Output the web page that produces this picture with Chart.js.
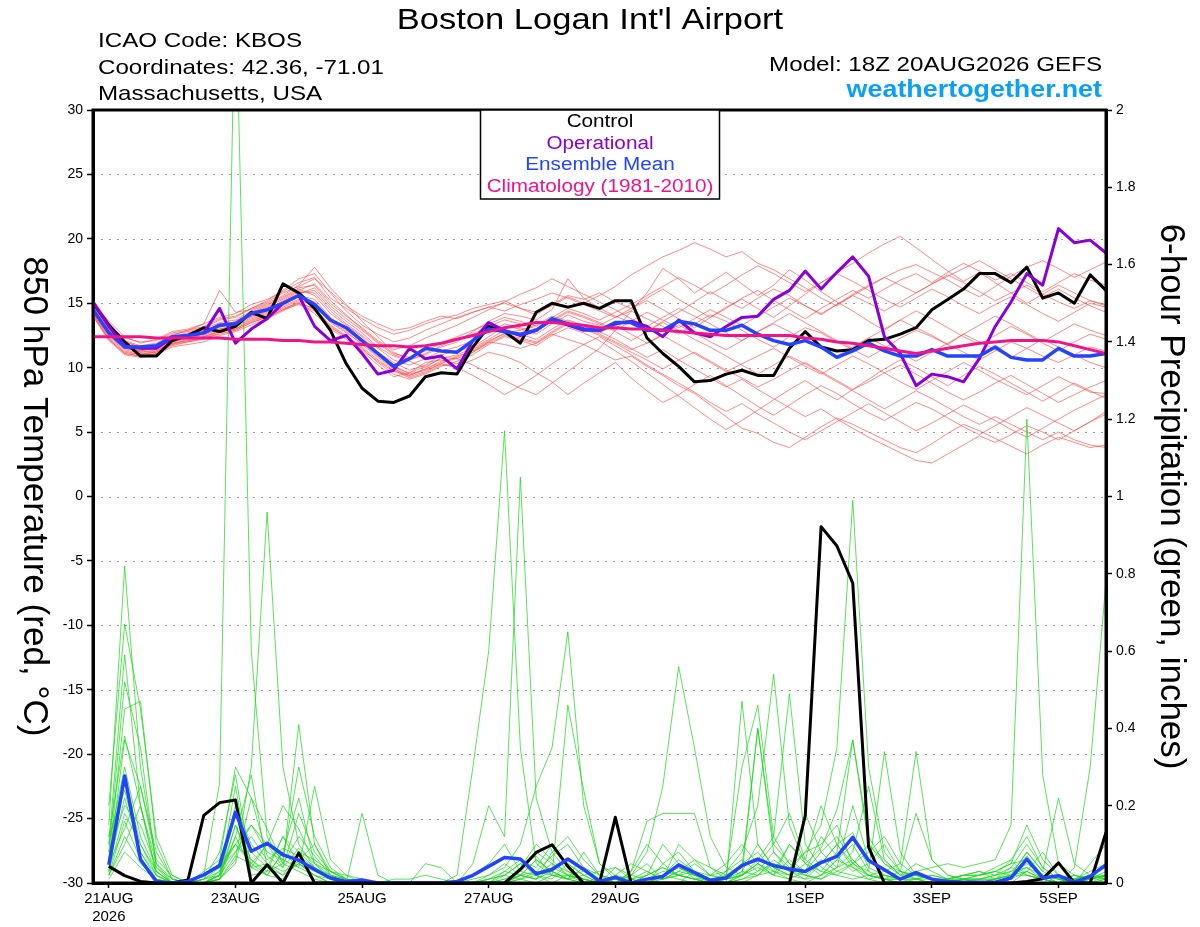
<!DOCTYPE html>
<html><head><meta charset="utf-8">
<script src="https://cdn.jsdelivr.net/npm/chart.js@4.4.1/dist/chart.umd.min.js"></script>
<style>html,body{margin:0;padding:0;background:#fff;}canvas{display:block;}</style>
</head><body>
<canvas id="c" width="1200" height="927"></canvas>
<script>
// ---------- DATA ----------
const stepHours = 6; // index 0 = 18Z 20AUG2026
const xTickHours = [6, 54, 102, 150, 198, 270, 318, 366];
const xTickLabels = [["21AUG", "2026"], "23AUG", "25AUG", "27AUG", "29AUG", "1SEP", "3SEP", "5SEP"];

const controlTemp = [15.0,13.3,12.0,10.9,10.9,12.1,12.5,13.1,12.8,13.2, 14.3,13.8,16.5,15.8,14.6,12.9,10.3,8.4,7.4,7.3, 7.8,9.3,9.6,9.5,11.6,13.2,12.8,11.9,14.3,15.0, 14.7,15.0,14.6,15.2,15.2,12.3,11.1,10.1,8.9,9.0, 9.5,9.8,9.4,9.4,11.5,12.8,11.6,11.3,11.4,12.1, 12.2,12.6,13.1,14.5,15.3,16.1,17.3,17.3,16.6,17.8, 15.4,15.8,15.0,17.2,16.0];
const operationalTemp = [15.1,13.2,11.7,11.5,11.5,12.3,12.5,12.7,14.6,11.9, 13.0,13.8,15.0,15.6,13.2,12.1,12.5,11.1,9.5,9.8, 11.5,10.7,10.9,9.9,12.1,13.5,12.9,12.5,12.9,13.7, 13.3,12.9,12.9,13.4,13.6,13.2,12.4,13.7,12.7,12.4, 13.2,13.9,14.0,15.3,16.0,17.5,16.1,17.4,18.6,17.1, 12.4,11.1,8.6,9.5,9.3,8.9,10.7,13.2,15.1,17.3, 16.4,20.8,19.7,19.9,18.9];
const meanTemp = [14.5,12.7,11.6,11.6,11.7,12.4,12.5,12.7,13.3,13.4, 14.2,14.5,15.0,15.6,14.9,13.7,13.1,12.1,11.1,10.1, 10.7,11.5,11.3,11.2,12.1,13.0,12.8,12.6,12.9,13.8, 13.4,13.0,12.9,13.5,13.5,12.9,12.9,13.6,13.4,12.9, 12.9,13.3,12.6,12.1,11.8,12.1,11.6,10.8,11.3,11.9, 11.3,10.9,10.9,11.4,10.9,10.9,10.9,11.6,10.8,10.6, 10.6,11.5,10.9,10.9,11.1];
const climTemp = [12.4,12.4,12.4,12.4,12.3,12.3,12.3,12.3,12.3,12.2, 12.2,12.2,12.1,12.1,12.0,12.0,11.9,11.8,11.7,11.7, 11.6,11.7,11.9,12.2,12.5,12.8,13.1,13.3,13.5,13.5, 13.4,13.3,13.1,13.1,13.0,13.0,12.9,12.8,12.7,12.6, 12.5,12.5,12.5,12.5,12.5,12.3,12.2,12.0,11.9,11.7, 11.5,11.3,11.1,11.3,11.5,11.7,11.9,12.0,12.1,12.1, 12.1,12.0,11.7,11.4,11.1];

const tempMember01 = [15.0,13.6,12.4,11.9,12.2,12.8,13.0,13.4,13.9,14.2,14.9,15.3, 15.9,16.6,17.0,15.4,14.6, 13.8,13.1,12.6,12.9,13.4,13.8,14.1,14.6,14.9,15.2,14.6,14.3,14.8,15.5,15.0, 15.6,16.3,17.2,17.9,18.6,19.1,19.7,19.2,18.6,19.0,18.1,17.6,16.9,16.2,15.4,14.8,15.6,16.3,17.0,16.4,15.8,16.5,17.2,16.6,15.9,15.2,15.8,16.4,15.7,15.1,14.6,15.2,14.8];
const tempMember02 = [14.2,12.3,11.2,11.0,11.3,11.9,12.1,12.3,12.8,13.0,13.6,14.0, 14.6,15.0,14.2,13.0,12.2, 11.3,10.2,9.3,9.6,10.4,10.6,10.3,11.2,12.0,11.8,11.5,11.9,12.6,12.2,11.8, 11.2,10.6,10.9,10.1,9.4,8.6,8.0,7.1,6.2,5.3,4.9,4.2,3.8,4.6,5.4,6.1,5.6,5.0,4.4,3.8,3.4,4.1,4.9,5.6,5.1,4.5,3.9,3.3,4.0,4.6,4.2,3.8,4.0];
const tempMember03 = [14.7,13.0,11.8,11.4,11.5,12.2,12.6,12.9,13.1,13.6,14.3,14.8, 15.4,16.1,15.6,14.2,13.3, 12.4,11.2,10.4,9.8,10.2,11.0,11.3,11.6,12.4,13.2,13.0,12.6,13.4,14.1,13.6, 13.3,13.9,14.4,13.8,13.2,12.6,13.4,14.1,13.6,12.9,12.2,11.6,12.4,13.1,12.7,12.0,11.4,10.8,11.5,12.3,12.9,12.4,11.8,11.2,10.6,11.3,12.0,11.5,10.9,10.4,11.0,11.6,11.3];
const tempMember04 = [15.3,13.5,12.0,11.6,11.8,12.5,12.9,13.4,16.0,14.3,14.5,15.0, 15.6,16.4,17.8,16.2,14.9, 13.6,12.4,11.2,10.6,11.0,11.6,12.0,12.8,13.6,14.2,14.0,13.7,14.5,16.9,15.4, 14.6,14.0,13.5,12.8,13.6,14.3,15.1,15.9,15.2,14.6,15.4,16.1,15.6,14.8,14.1,14.9,15.7,16.4,17.0,17.6,18.0,17.4,16.8,16.1,15.5,16.3,17.1,17.8,18.3,17.7,17.0,17.6,18.2];
const tempMember05 = [14.0,12.1,11.0,10.8,11.0,11.6,11.8,12.0,12.5,12.8,13.3,13.8, 14.4,15.0,14.6,13.3,12.5, 11.6,10.6,9.8,9.2,9.6,10.2,10.1,10.6,11.2,10.9,10.4,9.6,8.9,7.9,8.8, 9.6,10.4,9.2,8.2,7.3,7.9,8.7,9.4,8.6,7.8,7.0,6.3,7.1,7.9,8.6,8.0,7.2,6.5,5.9,6.6,7.3,6.8,6.1,5.4,4.8,5.5,6.2,6.9,6.3,5.7,5.1,5.8,6.4];
const tempMember06 = [14.9,13.2,12.3,12.0,12.1,12.7,12.9,13.2,13.8,14.0,14.6,15.1, 15.8,16.3,16.9,15.9,14.8, 14.0,13.4,12.9,13.1,13.6,14.0,13.8,14.3,14.7,14.4,14.9,15.3,15.8,15.4,14.9, 14.4,13.9,14.6,15.2,14.5,13.8,13.1,13.9,14.7,15.3,14.6,13.9,14.8,15.7,16.6,17.4,18.1,18.9,19.6,20.2,19.3,18.4,17.5,16.7,17.4,16.6,15.8,15.0,15.7,16.4,15.8,15.2,14.9];
const tempMember07 = [14.4,12.6,11.5,11.2,11.4,12.0,12.3,12.6,13.0,13.2,13.9,14.2, 14.9,15.5,15.1,13.8,12.9, 12.0,11.0,9.9,9.4,9.9,10.5,10.8,11.4,12.1,12.6,12.3,12.0,12.8,13.5,13.1, 12.6,12.0,11.4,11.9,12.5,11.8,11.1,10.4,9.7,10.3,10.9,11.5,10.8,10.1,9.5,10.2,10.9,10.3,9.6,8.9,8.3,9.0,9.7,10.4,9.8,9.1,8.5,7.9,8.6,9.3,8.7,8.1,8.0];
const tempMember08 = [14.6,12.9,11.7,11.3,11.6,12.3,12.4,12.8,13.4,13.5,14.1,14.6, 15.1,15.8,16.0,14.6,13.6, 12.7,11.6,10.9,10.5,10.0,10.8,10.7,10.2,9.6,9.0,8.4,7.9,8.8,9.7,10.6, 11.5,12.9,14.4,15.8,17.7,16.9,15.8,16.6,17.4,16.5,15.6,16.4,17.6,16.8,15.9,15.1,14.4,13.6,12.9,13.7,14.4,13.8,13.1,12.4,11.8,12.5,13.2,12.6,11.9,11.3,12.0,12.6,12.2];
const tempMember09 = [14.3,12.5,11.4,11.1,11.2,11.8,12.2,12.4,12.9,13.1,13.8,14.1, 14.8,15.3,14.8,13.5,12.7, 11.9,10.9,10.0,9.6,10.1,10.7,11.0,11.5,12.2,12.9,12.6,12.2,13.0,13.7,13.3, 12.8,12.2,11.5,10.8,11.4,10.6,9.9,9.2,8.5,9.1,8.3,7.6,6.9,6.2,6.8,6.0,5.3,4.6,4.0,3.4,2.8,2.6,3.3,4.0,4.7,4.2,4.8,5.5,5.0,4.4,5.1,5.8,6.6];
const tempMember10 = [15.1,13.3,12.1,11.7,11.9,12.6,12.8,13.1,13.7,13.9,14.6,15.2, 16.0,16.9,17.3,15.8,14.4, 13.3,12.6,12.0,12.3,12.9,13.4,13.9,14.3,14.7,15.0,14.6,14.1,14.9,15.6,15.3, 15.8,15.1,14.6,15.4,16.1,15.3,14.6,13.9,14.6,15.4,16.0,15.2,14.5,13.8,14.6,15.3,16.0,15.4,16.1,16.8,17.3,16.6,17.4,18.1,17.5,16.8,17.3,16.6,15.9,16.6,17.3,16.8,16.4];
const tempMember11 = [14.1,12.2,11.1,10.9,11.1,11.7,12.0,12.2,12.7,12.9,13.5,13.9, 14.5,14.9,14.4,13.1,12.4, 11.5,10.4,9.5,9.1,9.5,10.1,10.5,11.0,11.8,12.4,12.1,11.7,12.5,13.1,12.7, 12.1,11.3,10.5,9.6,8.7,7.8,6.9,6.0,5.2,5.9,6.7,7.5,8.3,9.0,8.2,7.5,8.3,9.1,9.9,10.6,10.0,9.3,8.6,9.4,10.1,9.5,8.8,8.1,7.4,8.1,8.8,8.2,7.6];
const tempMember12 = [14.8,13.1,12.0,11.6,11.7,12.4,12.7,13.0,13.5,13.7,14.4,14.9, 15.5,16.2,16.4,15.0,14.0, 13.1,12.1,11.4,11.7,12.3,12.8,13.3,13.9,14.5,15.1,15.7,16.2,16.9,16.3,15.7, 15.1,14.5,13.8,13.2,13.9,14.6,14.0,13.4,12.7,12.1,12.8,13.5,14.2,13.5,12.8,12.1,11.5,12.3,13.0,13.7,13.1,12.5,11.8,12.6,13.3,14.0,13.4,12.7,12.0,12.7,13.4,12.9,12.5];
const tempMember13 = [14.5,12.8,11.6,11.2,11.3,12.0,12.3,12.5,13.0,13.3,14.0,14.3, 14.9,15.6,15.3,13.9,13.0, 12.1,11.1,10.2,9.5,9.8,10.3,10.0,9.4,8.7,7.9,8.6,9.4,10.3,11.1,11.8, 12.4,11.7,11.0,10.2,9.5,8.8,8.1,7.3,6.6,7.2,6.4,5.7,5.0,4.4,5.1,5.8,6.5,7.2,6.5,5.8,5.1,5.7,6.4,7.1,6.5,5.9,5.2,4.6,5.3,6.0,6.7,7.3,7.9];
const tempMember14 = [14.6,12.9,11.8,11.5,11.7,12.3,12.5,12.9,13.2,13.6,14.2,14.7, 15.3,16.0,16.5,15.2,14.1, 13.0,12.0,11.1,10.8,11.3,11.9,12.4,12.9,13.4,13.9,13.6,13.2,13.9,14.6,14.2, 13.7,14.3,14.9,15.6,16.3,17.0,16.4,15.7,16.4,17.2,17.9,17.3,16.6,15.9,16.6,17.3,16.7,16.0,15.3,14.7,15.4,16.1,15.5,14.8,14.2,14.9,15.5,14.9,14.2,13.6,14.3,15.0,14.7];
const tempMember15 = [14.2,12.4,11.3,11.0,11.2,11.9,12.1,12.4,12.8,13.0,13.7,14.0, 14.7,15.2,14.9,13.6,12.8, 11.8,10.8,9.9,9.3,9.7,10.3,10.9,11.3,12.0,12.7,12.9,13.3,14.0,13.6,13.2, 12.7,13.3,12.6,11.9,12.6,13.3,12.7,12.0,11.4,12.1,12.8,13.4,12.8,12.1,11.5,10.9,11.6,12.3,11.7,11.1,10.5,11.2,11.9,12.6,12.0,11.4,10.8,11.5,12.2,11.6,11.0,10.4,10.0];
const tempMember16 = [14.9,13.1,11.9,11.4,11.6,12.2,12.5,12.8,13.3,13.5,14.2,14.5, 15.2,15.9,15.8,14.4,13.4, 12.5,11.5,10.6,10.2,10.7,11.3,11.6,12.1,12.8,13.4,13.1,12.8,13.6,14.3,13.9, 13.4,12.8,12.1,12.8,13.5,12.9,12.2,11.6,10.9,10.2,9.5,10.2,10.9,10.3,9.6,8.9,8.2,7.5,6.8,7.5,8.2,7.6,6.9,6.2,5.6,6.2,5.6,5.0,4.4,5.0,4.4,4.0,3.8];
const tempMember17 = [14.7,12.7,11.5,11.3,11.5,12.1,12.4,12.7,13.2,13.4,14.0,14.4, 15.0,15.7,16.2,14.8,13.8, 12.9,11.9,11.0,10.6,11.1,11.7,12.2,12.6,13.2,13.7,13.4,13.0,13.7,14.4,14.0, 13.5,12.9,13.6,14.3,13.7,13.1,13.8,14.5,13.9,13.3,14.0,14.7,15.4,14.8,14.2,14.9,15.6,15.0,14.4,15.1,15.8,16.5,17.1,17.7,18.3,17.6,16.9,16.2,15.5,16.1,15.4,14.8,14.3];
const tempMember18 = [14.0,12.2,11.1,10.9,11.1,11.8,12.0,12.3,12.6,12.9,13.5,13.9, 14.5,15.1,14.5,13.2,12.4, 11.4,10.5,9.7,9.4,9.9,10.4,10.7,11.2,11.9,12.5,12.2,11.9,12.7,13.4,13.0, 12.5,11.9,11.2,10.6,9.9,10.6,11.2,10.5,9.8,9.2,8.5,9.1,9.8,10.4,9.7,9.0,8.3,8.9,9.6,10.2,9.5,8.8,8.1,7.5,8.1,8.8,9.4,8.7,8.0,7.3,7.9,8.5,9.0];

// 6-hour precipitation, first value = 00Z 21AUG (index 1)
const controlPrecip = [0.043,0.019,0.004,0,0,0.008,0.175,0.208, 0.215,0,0.047,0,0.078,0,0,0, 0,0,0,0,0,0,0,0, 0,0,0.035,0.079,0.099,0.043,0,0, 0.17,0,0,0,0,0,0,0, 0,0,0,0,0.175,0.922,0.872,0.776, 0.093,0,0,0,0,0,0,0, 0,0,0.004,0.011,0.052,0,0,0.131];
const meanPrecip = [0.047,0.277,0.061,0.004,0,0.004,0.021,0.045, 0.183,0.082,0.103,0.073,0.059,0.035,0.013,0.004, 0.008,0,0,0,0,0,0.004,0.02, 0.043,0.066,0.062,0.024,0.035,0.062,0.035,0.004, 0.015,0,0.01,0.017,0.047,0.027,0.007,0.013, 0.045,0.062,0.045,0.036,0.030,0.053,0.069,0.118, 0.058,0.034,0.01,0.027,0.01,0.004,0.002,0.002, 0.002,0.013,0.062,0.013,0.019,0.002,0.017,0.047];

const precipMember01 = [0.02,0.12,0.05,0.01,0,0,0.02,0.26, 2.35,0.6,0.12,0.05,0.03,0.01,0,0, 0,0,0,0,0,0,0,0.02, 0.05,0.1,0.03,0.02,0.01,0.05,0.02,0, 0,0,0.02,0.1,0.05,0.01,0,0.02, 0.05,0.08,0.03,0.01,0,0.02,0.04,0.06, 0.02,0.01,0,0,0,0.01,0.02,0.03, 0.01,0.02,0.08,0.03,0.01,0,0,0.02];
const precipMember02 = [0.15,0.82,0.3,0.05,0,0,0,0.02, 0.08,0.15,0.1,0.06,0.04,0.02,0,0, 0,0,0,0,0,0,0,0, 0,0,0.02,0.06,0.03,0.01,0.08,0.02, 0.01,0,0,0.02,0.06,0.03,0,0, 0.47,0.1,0.04,0.02,0.05,0.09,0.19,0.37, 0.12,0.05,0.02,0.03,0.01,0,0,0, 0,0,0.03,0.01,0,0,0.02,0.05];
const precipMember03 = [0.2,0.67,0.45,0.12,0.02,0,0,0.01, 0.06,0.3,0.96,0.3,0.1,0.04,0.01,0, 0,0,0,0,0,0,0,0, 0,0.02,0.05,0.02,0,0.02,0.01,0, 0,0.03,0.16,0.18,0.18,0.18,0.04,0.01, 0.02,0.4,0.1,0.05,0.02,0.01,0.04,0.08, 0.25,0.06,0.02,0.01,0,0,0.01,0.02, 0.04,0.06,0.02,0.01,0,0.01,0.02,0.04];
const precipMember04 = [0.1,0.59,0.2,0.03,0,0,0.01,0.03, 0.1,0.05,0.02,0.01,0.06,0.1,0.03,0.01, 0,0,0,0,0,0,0.02,0.3, 0.6,1.17,0.35,0.05,0.02,0.01,0,0, 0,0,0.02,0.04,0.02,0.01,0,0, 0.01,0.03,0.08,0.04,0.02,0.01,0.03,0.05, 0.02,0.01,0.01,0,0,0,0.01,0.01, 0.02,0.06,0.12,0.04,0.01,0,0.05,0.1];
const precipMember05 = [0.08,0.52,0.35,0.04,0,0,0,0.02, 0.12,0.04,0.05,0.02,0.08,0.04,0.01,0, 0,0,0,0,0,0,0,0.05, 0.2,0.12,1.05,0.22,0.08,0.03,0.01,0, 0,0.02,0.01,0,0,0.03,0.01,0, 0,0.02,0.05,0.03,0.01,0.02,0.06,0.04, 0.01,0,0,0,0,0.01,0.02,0.02, 0.03,0.02,0.05,0.02,0,0.04,0.3,0.78];
const precipMember06 = [0.12,0.38,0.2,0.02,0,0,0.02,0.05, 0.1,0.06,0.03,0.05,0.12,0.07,0.02,0, 0,0,0,0,0,0,0,0, 0.02,0.04,0.1,0.25,0.35,0.65,0.2,0.05, 0.02,0.01,0,0.05,0.08,0.03,0.01,0, 0.02,0.05,0.03,0.1,0.06,0.2,0.1,0.05, 0.03,0.34,0.08,0.02,0.01,0,0,0, 0.01,0.02,0.02,0.01,0,0,0.01,0.02];
const precipMember07 = [0.05,0.37,0.25,0.08,0.01,0,0,0.02, 0.18,0.08,0.04,0.02,0.05,0.03,0.01,0, 0,0,0,0,0,0,0,0, 0,0.01,0.03,0.08,0.05,0.02,0,0, 0.04,0.02,0.08,0.25,0.56,0.35,0.12,0.04, 0.02,0.06,0.12,0.05,0.03,0.08,0.12,0.06, 0.02,0.01,0.03,0.18,0.06,0.02,0.01,0, 0,0.01,0.06,0.02,0.01,0.01,0,0.01];
const precipMember08 = [0.03,0.27,0.1,0.02,0,0,0.01,0.04, 0.1,0.15,0.08,0.06,0.3,0.12,0.04,0.01, 0,0,0,0,0,0,0,0, 0.01,0.03,0.02,0.01,0.04,0.02,0.01,0, 0,0.01,0.03,0.01,0.02,0.05,0.02,0.01, 0.03,0.02,0.06,0.03,0.08,0.15,0.35,0.99, 0.3,0.08,0.03,0.01,0,0,0,0, 0.01,0.03,0.07,0.02,0,0,0.01,0.02];
const precipMember09 = [0.04,0.22,0.08,0.01,0,0,0,0.01, 0.07,0.05,0.1,0.04,0.09,0.05,0.03,0.01, 0,0,0,0,0,0,0,0, 0,0,0.02,0.01,0.03,0.01,0,0, 0.01,0,0.01,0.02,0.01,0,0,0.01, 0.02,0.04,0.02,0.01,0.03,0.06,0.03,0.02, 0.01,0.02,0.01,0.03,0.04,0.05,0.04,0.05, 0.06,0.15,1.2,0.28,0.05,0.02,0.01,0.03];
const precipMember10 = [0.02,0.16,0.06,0.01,0,0,0,0.01, 0.05,0.22,0.14,0.05,0.41,0.1,0.02,0, 0.18,0.02,0,0,0,0,0,0, 0.01,0.02,0.01,0,0.02,0.46,0.24,0.05, 0.01,0,0.01,0.03,0.02,0.01,0,0.03, 0.08,0.2,0.54,0.15,0.05,0.03,0.08,0.37, 0.1,0.05,0.03,0.02,0.01,0,0,0, 0.01,0.02,0.03,0.01,0,0.01,0.02,0.01];
const precipMember11 = [0.01,0.08,0.04,0.01,0,0,0.01,0.02, 0.15,0.04,0.02,0.08,0.04,0.25,0.06,0.02, 0,0,0,0,0,0,0,0, 0,0,0.01,0.02,0.05,0.03,0.01,0, 0.02,0.05,0.03,0.01,0.03,0.06,0.04,0.02, 0.3,0.46,0.12,0.49,0.1,0.04,0.02,0.05, 0.08,0.12,0.05,0.34,0.06,0.02,0.01,0, 0,0.02,0.08,0.03,0.22,0.05,0.02,0.01];
const precipMember12 = [0.06,0.45,0.47,0.1,0.01,0,0,0.03, 0.2,0.1,0.05,0.03,0.05,0.02,0,0, 0,0,0,0,0,0,0,0, 0,0,0.04,0.1,0.06,0.02,0.03,0.01, 0,0,0.01,0.02,0.04,0.02,0.01,0.02, 0.04,0.4,0.08,0.03,0.02,0.05,0.1,0.04, 0.02,0.01,0,0.01,0.02,0.01,0.02,0.03, 0.02,0.04,0.1,0.04,0.01,0,0,0.01];
const precipMember13 = [0.1,0.3,0.12,0.03,0,0,0.02,0.04, 0.08,0.12,0.06,0.09,0.07,0.04,0.02,0.01, 0,0,0.01,0.01,0.02,0.01,0,0, 0.01,0.02,0.05,0.07,0.02,0.01,0.04,0.02, 0,0.03,0.1,0.05,0.02,0.01,0.02,0.05, 0.1,0.05,0.02,0.06,0.03,0.12,0.07,0.03, 0.05,0.1,0.03,0.02,0.01,0.01,0.02,0.02, 0.03,0.05,0.06,0.02,0.01,0.02,0.01,0.02];
const precipMember14 = [0.02,0.1,0.2,0.05,0.01,0,0,0.02, 0.25,0.02,0.03,0.12,0.08,0.06,0.03,0.02, 0.01,0,0,0,0,0,0,0, 0,0.03,0.06,0.04,0.1,0.05,0.02,0.03, 0.04,0.01,0,0.01,0.1,0.06,0.02,0.03, 0.06,0.03,0.05,0.04,0.08,0.1,0.15,0.05, 0.1,0.06,0.02,0.05,0.03,0.01,0.01,0.01, 0.02,0.03,0.04,0.02,0.01,0.01,0.02,0.02];
const precipMember15 = [0.08,0.2,0.15,0.04,0.01,0,0.03,0.06, 0.3,0.22,0.07,0.04,0.18,0.08,0.03,0.01, 0,0,0,0,0,0,0,0, 0,0,0.02,0.03,0.07,0.1,0.04,0.01, 0,0.01,0.02,0.04,0.02,0.01,0.01,0, 0.01,0.02,0.03,0.02,0.01,0.05,0.1,0.13, 0.04,0.02,0.01,0.01,0.01,0,0,0.01, 0.01,0.04,0.02,0.01,0,0,0.01,0.02];
const precipMember16 = [0.05,0.14,0.25,0.06,0.02,0,0.01,0.08, 0.28,0.04,0.1,0.2,0.14,0.05,0.02,0.01, 0,0,0,0,0,0,0,0.01, 0.02,0.05,0.02,0.01,0.08,0.12,0.06,0.02, 0.01,0,0,0.02,0.04,0.02,0,0, 0.02,0.05,0.1,0.18,0.06,0.03,0.02,0.01, 0.02,0.03,0.05,0.02,0.01,0,0,0, 0,0.01,0.03,0.08,0.02,0.01,0.03,0.05];
const precipMember17 = [0.03,0.18,0.1,0.03,0,0,0,0.01, 0.12,0.28,0.04,0.12,0.05,0.02,0.01,0, 0,0,0,0,0.05,0.04,0,0, 0,0,0.01,0.03,0.02,0.02,0.01,0, 0,0,0.01,0.01,0.03,0.02,0.01,0, 0.03,0.1,0.04,0.02,0.18,0.08,0.04,0.2, 0.06,0.02,0.01,0.01,0.02,0.01,0.01,0.02, 0.03,0.05,0.15,0.06,0.02,0.01,0.01,0.01];
const precipMember18 = [0.12,0.24,0.08,0.02,0,0,0,0.01, 0.15,0.06,0.02,0.08,0.22,0.05,0.01,0, 0,0,0,0,0,0,0,0, 0,0.01,0.02,0.06,0.03,0.01,0.02,0, 0.01,0.02,0.05,0.01,0.02,0.03,0.02,0.01, 0.02,0.05,0.02,0.1,0.05,0.02,0.06,0.1, 0.03,0.01,0.01,0.02,0.01,0,0.01,0.01, 0.01,0.02,0.04,0.01,0,0.02,0.01,0.02];

const tempMembers = [tempMember01,tempMember02,tempMember03,tempMember04,tempMember05,tempMember06,tempMember07,tempMember08,tempMember09,tempMember10,tempMember11,tempMember12,tempMember13,tempMember14,tempMember15,tempMember16,tempMember17,tempMember18];
const precipMembers = [precipMember01,precipMember02,precipMember03,precipMember04,precipMember05,precipMember06,precipMember07,precipMember08,precipMember09,precipMember10,precipMember11,precipMember12,precipMember13,precipMember14,precipMember15,precipMember16,precipMember17,precipMember18];

// ---------- STYLE ----------
const FONT = "'Liberation Sans', Arial, Helvetica, sans-serif";
const PURPLE = '#8a00d8', BLUE = '#2244ff', PINK = '#f0148a', BLACK = '#000000';

const pts = (arr, start) => arr.map((v, k) => ({ x: (start + k) * stepHours, y: v }));

const datasets = [];
tempMembers.forEach(m => datasets.push({ data: pts(m, 0), yAxisID: 'yT', borderColor: 'rgba(255,70,70,0.8)', borderWidth: 0.8, order: 5 }));
precipMembers.forEach(m => datasets.push({ data: pts(m, 1), yAxisID: 'yP', borderColor: 'rgba(25,215,25,0.9)', borderWidth: 0.8, order: 4 }));
datasets.push({ data: pts(controlTemp, 0), yAxisID: 'yT', borderColor: BLACK, borderWidth: 3, order: 3 });
datasets.push({ data: pts(controlPrecip, 1), yAxisID: 'yP', borderColor: BLACK, borderWidth: 3, order: 3 });
datasets.push({ data: pts(operationalTemp, 0), yAxisID: 'yT', borderColor: PURPLE, borderWidth: 3, order: 2 });
datasets.push({ data: pts(meanTemp, 0), yAxisID: 'yT', borderColor: BLUE, borderWidth: 3.5, order: 1 });
datasets.push({ data: pts(meanPrecip, 1), yAxisID: 'yP', borderColor: BLUE, borderWidth: 3.5, order: 1 });
datasets.push({ data: pts(climTemp, 0), yAxisID: 'yT', borderColor: PINK, borderWidth: 3, order: 0 });

// text drawn slightly stretched horizontally, as in the reference's wide sans font
function wideText(ctx, txt, x, y, sx, align) {
  ctx.save();
  ctx.translate(x, y);
  ctx.scale(sx, 1);
  ctx.textAlign = align;
  ctx.fillText(txt, 0, 0);
  ctx.restore();
}

const decor = {
  id: 'decor',
  beforeDatasetsDraw(chart) {
    const { ctx, chartArea: a, scales } = chart;
    ctx.save();
    ctx.strokeStyle = '#a0a0a0';
    ctx.lineWidth = 1;
    ctx.setLineDash([2, 6]);
    scales.yT.ticks.forEach(t => {
      if (t.value <= scales.yT.min || t.value >= scales.yT.max) return;
      const y = Math.round(scales.yT.getPixelForValue(t.value)) + 0.5;
      ctx.beginPath(); ctx.moveTo(a.left + 8, y); ctx.lineTo(a.right - 3, y); ctx.stroke();
    });
    ctx.restore();
  },
  afterDatasetsDraw(chart) {
    const { ctx, chartArea: a } = chart;
    ctx.save();
    ctx.strokeStyle = '#000'; ctx.lineWidth = 3;
    ctx.strokeRect(a.left, a.top, a.right - a.left, a.bottom - a.top);
    ctx.restore();
  },
  afterDraw(chart) {
    const { ctx, chartArea: a } = chart;
    ctx.save();
    ctx.fillStyle = '#000';
    ctx.textBaseline = 'alphabetic';
    // title
    ctx.font = `30px ${FONT}`;
    wideText(ctx, "Boston Logan Int'l Airport", 590, 29, 1.15, 'center');
    // left header
    ctx.font = `21px ${FONT}`;
    wideText(ctx, 'ICAO Code: KBOS', 98, 47, 1.15, 'left');
    wideText(ctx, 'Coordinates: 42.36, -71.01', 98, 74, 1.15, 'left');
    wideText(ctx, 'Massachusetts, USA', 98, 100, 1.15, 'left');
    // right header
    wideText(ctx, 'Model: 18Z 20AUG2026 GEFS', 1102, 71, 1.15, 'right');
    ctx.font = `bold 24px ${FONT}`; ctx.fillStyle = '#0aa0f5';
    wideText(ctx, 'weathertogether.net', 1102, 97, 1.12, 'right');
    // legend box
    ctx.fillStyle = '#fff';
    ctx.fillRect(480, a.top, 240, 89);
    ctx.strokeStyle = '#000'; ctx.lineWidth = 1.5;
    ctx.strokeRect(480.5, a.top, 239, 89);
    ctx.font = `18px ${FONT}`;
    const leg = [['Control', BLACK], ['Operational', PURPLE], ['Ensemble Mean', BLUE], ['Climatology (1981-2010)', PINK]];
    leg.forEach((l, k) => { ctx.fillStyle = l[1]; wideText(ctx, l[0], 600, 127 + k * 21.5, 1.15, 'center'); });
    // axis titles (reading top to bottom)
    const midY = (a.top + a.bottom) / 2;
    const drawRot = (txt, x, targetLen) => {
      ctx.font = `30px ${FONT}`;
      const w = ctx.measureText(txt).width;
      const size = 30 * targetLen / w;
      ctx.font = `${size}px ${FONT}`;
      ctx.save(); ctx.translate(x, midY); ctx.rotate(Math.PI / 2);
      ctx.fillStyle = '#000'; ctx.textAlign = 'center'; ctx.textBaseline = 'middle';
      ctx.fillText(txt, 0, 0); ctx.restore();
    };
    drawRot('850 hPa Temperature (red, °C)', 34, 480);
    drawRot('6-hour Precipitation (green, inches)', 1171, 546);
    ctx.restore();
  }
};

new Chart(document.getElementById('c'), {
  type: 'line',
  data: { datasets },
  options: {
    responsive: false,
    animation: false,
    events: [],
    layout: { padding: { top: 110, left: 0, right: 0, bottom: 0 } },
    elements: { point: { radius: 0 }, line: { tension: 0, borderJoinStyle: 'round' } },
    plugins: { legend: { display: false }, tooltip: { enabled: false }, title: { display: false } },
    scales: {
      x: {
        type: 'linear', position: 'bottom', min: 0, max: 64 * stepHours,
        afterBuildTicks: s => { s.ticks = xTickHours.map(v => ({ value: v })); },
        ticks: {
          autoSkip: false, maxRotation: 0, color: '#000', padding: 2,
          font: { family: FONT, size: 15 },
          callback: v => { const k = xTickHours.indexOf(v); return k >= 0 ? xTickLabels[k] : ''; }
        },
        grid: { drawOnChartArea: false, drawTicks: true, tickLength: 5, tickColor: '#000', tickWidth: 1.5 },
        border: { display: true, color: '#000', width: 3 },
        afterFit: s => { s.height = 44; }
      },
      yT: {
        type: 'linear', position: 'left', min: -30, max: 30,
        ticks: { stepSize: 5, autoSkip: false, color: '#000', padding: 4, font: { family: FONT, size: 14 } },
        grid: { drawOnChartArea: false, drawTicks: true, tickLength: 6, tickColor: '#000', tickWidth: 1.5 },
        border: { display: true, color: '#000', width: 3 },
        afterFit: s => { s.width = 93; }
      },
      yP: {
        type: 'linear', position: 'right', min: 0, max: 2,
        ticks: { stepSize: 0.2, autoSkip: false, color: '#000', padding: 4, font: { family: FONT, size: 14 },
          callback: v => String(Math.round(v * 10) / 10) },
        grid: { drawOnChartArea: false, drawTicks: true, tickLength: 6, tickColor: '#000', tickWidth: 1.5 },
        border: { display: true, color: '#000', width: 3 },
        afterFit: s => { s.width = 94; }
      }
    }
  },
  plugins: [decor]
});
</script>
</body></html>
